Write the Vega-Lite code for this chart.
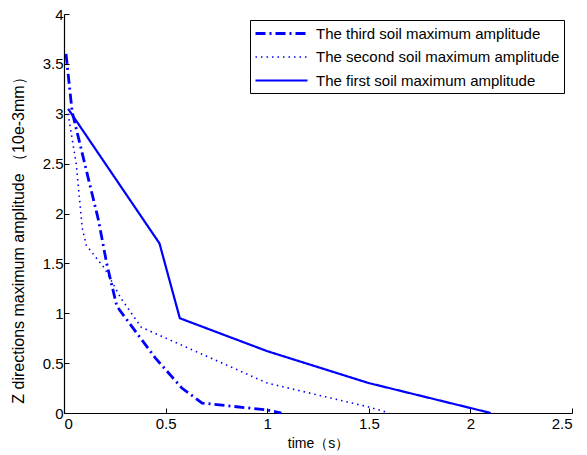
{
  "$schema": "https://vega.github.io/schema/vega-lite/v6.json",
  "width": 508,
  "height": 399,
  "autosize": {"type": "none"},
  "padding": {"left": 64, "top": 14, "right": 15, "bottom": 42},
  "background": "white",
  "config": {
    "view": {"stroke": null},
    "font": "Liberation Sans",
    "axis": {"grid": false, "domainColor": "black", "tickColor": "black", "labelColor": "black", "titleColor": "black", "labelFont": "Liberation Sans", "titleFont": "Liberation Sans", "labelFontSize": 15, "titleFontSize": 14, "titleFontWeight": "normal", "tickSize": -5, "domainWidth": 1.2, "format": "~g"}
  },
  "data": {
    "values": [
      {"series": "The third soil maximum amplitude", "t": 0.01, "a": 3.6},
      {"series": "The third soil maximum amplitude", "t": 0.04, "a": 3.02},
      {"series": "The third soil maximum amplitude", "t": 0.17, "a": 1.93},
      {"series": "The third soil maximum amplitude", "t": 0.21, "a": 1.5},
      {"series": "The third soil maximum amplitude", "t": 0.26, "a": 1.07},
      {"series": "The third soil maximum amplitude", "t": 0.45, "a": 0.55},
      {"series": "The third soil maximum amplitude", "t": 0.58, "a": 0.25},
      {"series": "The third soil maximum amplitude", "t": 0.68, "a": 0.1},
      {"series": "The third soil maximum amplitude", "t": 1.0, "a": 0.03},
      {"series": "The third soil maximum amplitude", "t": 1.07, "a": 0.0},
      {"series": "The second soil maximum amplitude", "t": 0.02, "a": 3.0},
      {"series": "The second soil maximum amplitude", "t": 0.06, "a": 2.5},
      {"series": "The second soil maximum amplitude", "t": 0.09, "a": 1.85},
      {"series": "The second soil maximum amplitude", "t": 0.11, "a": 1.68},
      {"series": "The second soil maximum amplitude", "t": 0.2, "a": 1.45},
      {"series": "The second soil maximum amplitude", "t": 0.28, "a": 1.15},
      {"series": "The second soil maximum amplitude", "t": 0.38, "a": 0.86},
      {"series": "The second soil maximum amplitude", "t": 1.0, "a": 0.3},
      {"series": "The second soil maximum amplitude", "t": 1.5, "a": 0.06},
      {"series": "The second soil maximum amplitude", "t": 1.6, "a": 0.0},
      {"series": "The first soil maximum amplitude", "t": 0.02, "a": 3.05},
      {"series": "The first soil maximum amplitude", "t": 0.47, "a": 1.7},
      {"series": "The first soil maximum amplitude", "t": 0.57, "a": 0.95},
      {"series": "The first soil maximum amplitude", "t": 1.0, "a": 0.62},
      {"series": "The first soil maximum amplitude", "t": 1.5, "a": 0.3},
      {"series": "The first soil maximum amplitude", "t": 2.1, "a": 0.0}
    ]
  },
  "mark": {"type": "line", "color": "#0000ff"},
  "encoding": {
    "x": {"field": "t", "type": "quantitative", "scale": {"domain": [0, 2.5], "nice": false}, "axis": {"title": "time（s）", "values": [0, 0.5, 1, 1.5, 2, 2.5], "labelPadding": 8, "titlePadding": 5}},
    "y": {"field": "a", "type": "quantitative", "scale": {"domain": [0, 4], "nice": false}, "axis": {"title": "Z directions maximum amplitude （10e-3mm）", "titleFontSize": 16, "titleY": 222, "titleX": -46, "titleBaseline": "middle", "values": [0, 0.5, 1, 1.5, 2, 2.5, 3, 3.5, 4], "labelPadding": 6}},
    "strokeWidth": {
      "field": "series", "type": "nominal",
      "scale": {"type": "ordinal", "domain": ["The third soil maximum amplitude", "The second soil maximum amplitude", "The first soil maximum amplitude"], "range": [2.8, 1.6, 2.2]},
      "legend": null
    },
    "strokeDash": {
      "field": "series", "type": "nominal",
      "scale": {"domain": ["The third soil maximum amplitude", "The second soil maximum amplitude", "The first soil maximum amplitude"], "range": [[10, 4, 2, 4], [1.5, 4], [1, 0]]},
      "legend": {"title": null, "orient": "none", "legendX": 186, "legendY": 6, "strokeColor": "black", "fillColor": "white", "padding": 4, "symbolType": "M-1,0H5.5", "symbolSize": 256, "symbolStrokeColor": "#0000ff", "symbolStrokeWidth": 2, "labelFontSize": 15, "labelFont": "Liberation Sans", "labelColor": "black", "labelLimit": 0, "rowPadding": 6, "labelOffset": 43}
    }
  }
}
